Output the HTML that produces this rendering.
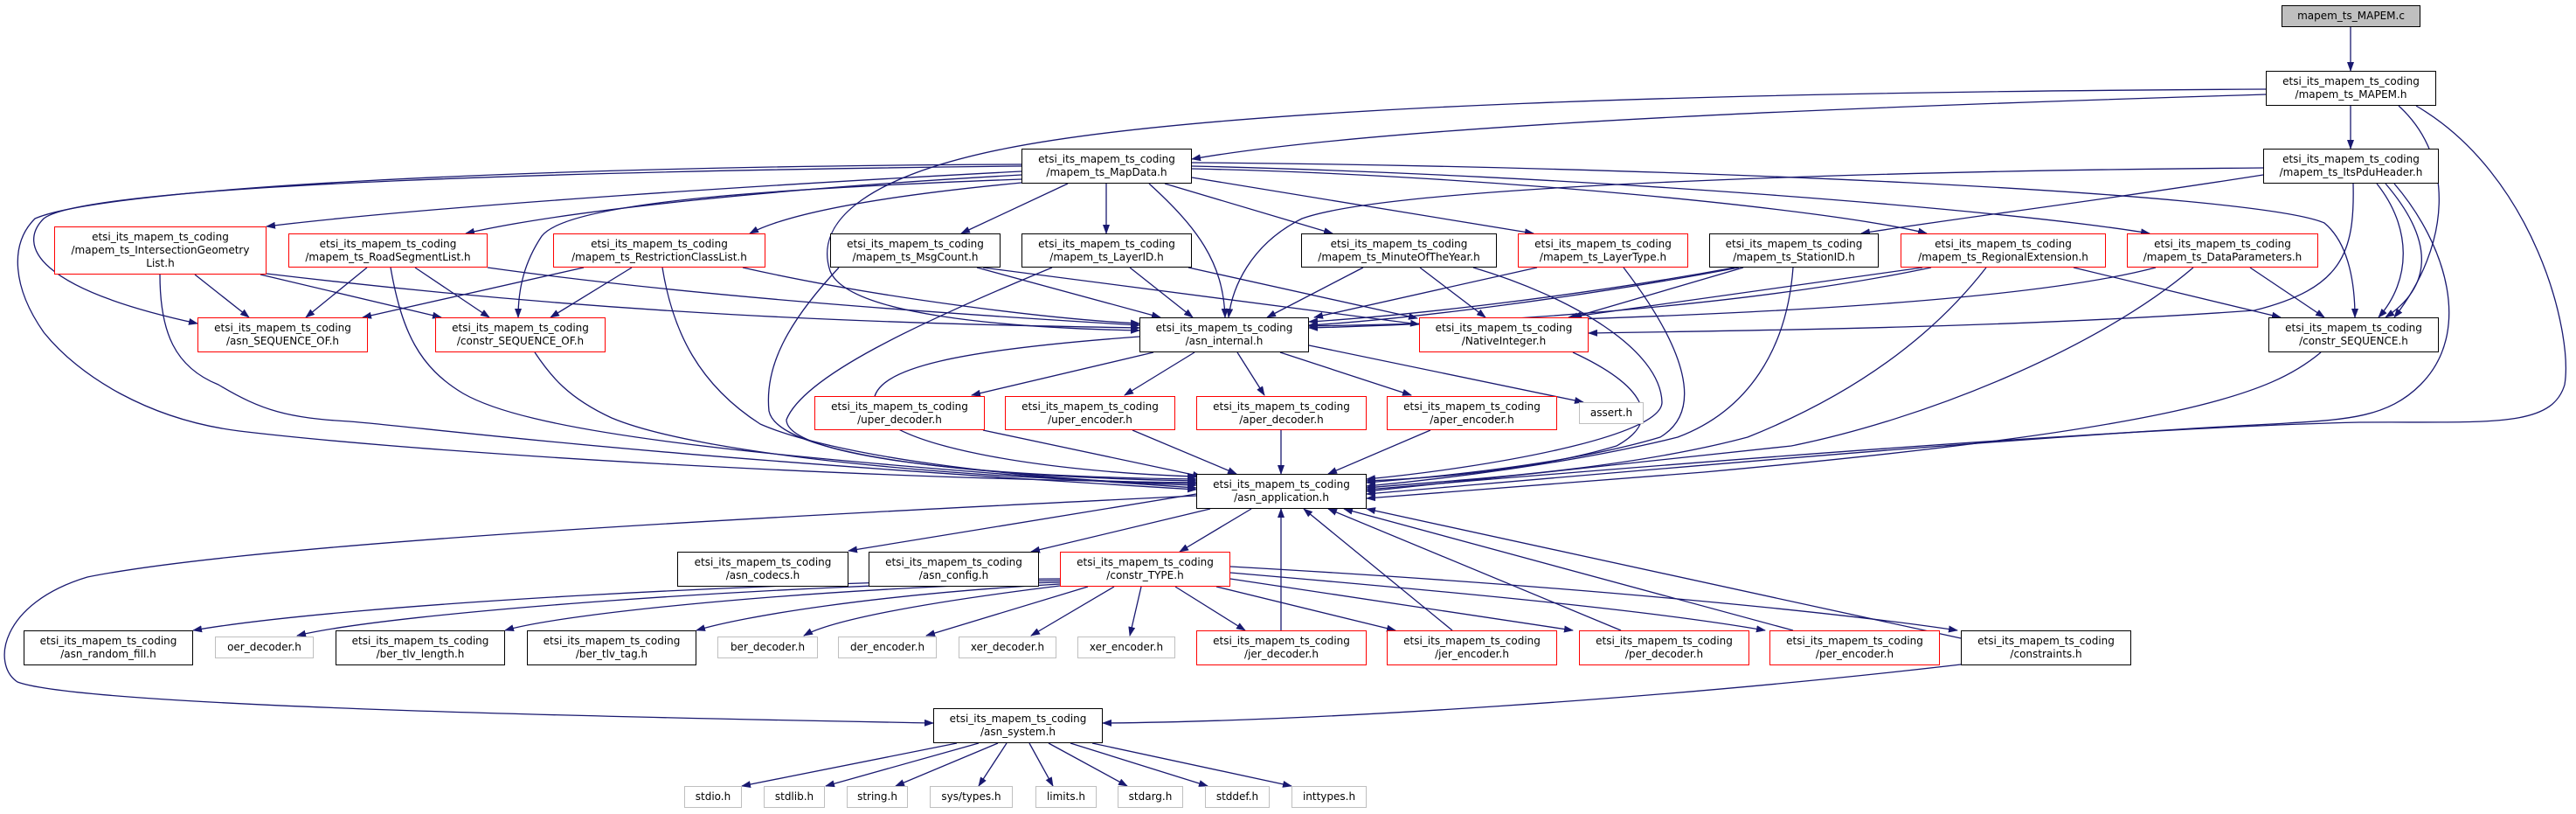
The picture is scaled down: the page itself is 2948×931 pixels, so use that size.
<!DOCTYPE html>
<html><head><meta charset="utf-8"><style>
html,body{margin:0;padding:0;background:#fff}
#w{position:relative;width:2948px;height:931px;overflow:hidden}
svg{position:absolute;left:0;top:0}
.n{position:absolute;box-sizing:border-box;border:1.5px solid #000;background:#fff;font-family:"DejaVu Sans","Liberation Sans",sans-serif;font-size:12px;line-height:15px;color:#000;display:flex;align-items:center;justify-content:center;text-align:center;white-space:nowrap}
.r{border-color:#f00}
.g{border-color:#bfbfbf}
</style></head><body><div id="w">
<svg width="2948" height="931" viewBox="0 0 2948 931">
<defs><marker id="a" markerWidth="11" markerHeight="8" refX="10" refY="4" orient="auto" markerUnits="userSpaceOnUse"><path d="M0,0 L11,4 L0,8 z" fill="#191970"/></marker></defs>
<g fill="none" stroke="#191970" stroke-width="1.3" marker-end="url(#a)">
<path d="M2690,31 L2690,81"/>
<path d="M2690,121 L2690,170"/>
<path d="M2593,108 C2200,120 1600,140 1364,182"/>
<path d="M2593,102 C2000,105 1400,120 1150,170 C1000,200 930,250 950,310 C970,360 1150,375 1304,378"/>
<path d="M2745,121 C2810,180 2805,280 2740,363"/>
<path d="M2765,121 C2900,200 2945,380 2935,440 C2920,490 2850,482 2700,483 C2400,490 1800,540 1564,560"/>
<path d="M2590,200 C2400,230 2200,255 2130,267"/>
<path d="M2590,192 C2200,195 1600,210 1490,250 C1430,280 1410,330 1406,363"/>
<path d="M2693,210 C2695,290 2680,330 2580,355 C2300,375 2000,378 1818,381"/>
<path d="M2720,210 C2760,260 2760,320 2722,363"/>
<path d="M2730,210 C2790,280 2780,330 2730,363"/>
<path d="M2740,210 C2800,280 2830,380 2770,440 C2730,480 2680,480 2600,485 C2300,500 1800,545 1564,565"/>
<path d="M2656,403 C2600,450 2500,490 1950,540 L1564,570"/>
<path d="M1169,196 C900,210 500,235 305,259"/>
<path d="M1169,200 C900,215 650,240 533,267"/>
<path d="M1169,209 C1000,225 900,245 858,267"/>
<path d="M1222,210 L1100,267"/>
<path d="M1266,210 L1266,267"/>
<path d="M1333,210 L1525,267"/>
<path d="M1364,203 L1755,267"/>
<path d="M1315,210 C1370,260 1400,300 1402,363"/>
<path d="M1364,193 C1700,200 2100,240 2205,267"/>
<path d="M1364,190 C1800,200 2300,240 2460,267"/>
<path d="M1364,186 C1900,190 2580,220 2660,255 C2690,280 2695,330 2695,363"/>
<path d="M1169,190 C700,195 100,210 50,250 C20,280 40,330 226,370"/>
<path d="M1169,188 C600,190 120,215 40,250 C10,280 15,330 50,380 C90,430 170,480 274,493 C500,520 1000,548 1369,552"/>
<path d="M1169,205 C900,215 650,230 620,270 C600,300 593,330 593,363"/>
<path d="M223,314 L285,363"/>
<path d="M298,314 L505,363"/>
<path d="M305,313 C700,360 1000,370 1304,375"/>
<path d="M183,314 C183,380 200,420 250,440 C300,470 330,478 400,482 C500,490 700,520 1369,560"/>
<path d="M420,306 L350,363"/>
<path d="M475,306 L560,363"/>
<path d="M558,306 C800,340 1100,360 1304,372"/>
<path d="M447,306 C460,380 480,420 530,450 C600,490 800,520 1369,558"/>
<path d="M668,306 L415,363"/>
<path d="M723,306 L630,363"/>
<path d="M850,306 C1000,340 1200,365 1304,370"/>
<path d="M758,306 C770,380 800,440 870,485 C950,520 1150,548 1369,555"/>
<path d="M612,403 C630,430 650,455 700,478 C800,520 1100,548 1369,553"/>
<path d="M1118,306 L1328,363"/>
<path d="M1125,306 L1624,371"/>
<path d="M960,306 C900,370 875,420 880,470 C890,520 1100,545 1369,550"/>
<path d="M1293,306 L1365,363"/>
<path d="M1360,306 L1622,364"/>
<path d="M1204,306 C1050,370 920,430 900,480 C900,520 1100,545 1369,548"/>
<path d="M1560,306 L1450,363"/>
<path d="M1625,306 L1700,363"/>
<path d="M1686,306 C1800,340 1900,400 1902,460 C1902,500 1700,535 1564,548"/>
<path d="M1759,306 L1504,363"/>
<path d="M1858,306 C1930,400 1950,470 1900,500 C1800,530 1650,545 1564,552"/>
<path d="M1985,306 C1800,340 1600,362 1498,368"/>
<path d="M1990,306 C1800,342 1600,366 1498,372"/>
<path d="M1995,306 L1800,363"/>
<path d="M2052,306 C2045,400 2000,470 1920,500 C1800,530 1650,548 1564,556"/>
<path d="M2210,306 C2000,350 1700,370 1498,375"/>
<path d="M2200,306 L1795,363"/>
<path d="M2373,306 L2610,363"/>
<path d="M2273,306 C2200,400 2100,460 2000,500 C1850,540 1650,550 1564,558"/>
<path d="M2467,306 C2300,350 1900,365 1498,373"/>
<path d="M2575,306 L2660,363"/>
<path d="M2510,306 C2400,400 2200,480 2050,510 L1564,562"/>
<path d="M1800,403 C1880,440 1905,480 1850,510 C1750,540 1620,548 1564,550"/>
<path d="M1320,403 L1112,452"/>
<path d="M1367,403 L1287,452"/>
<path d="M1416,403 L1447,452"/>
<path d="M1465,403 L1615,452"/>
<path d="M1498,395 L1812,460"/>
<path d="M1304,385 C1100,400 1000,420 1000,460 C1000,510 1200,540 1369,545"/>
<path d="M1125,492 L1375,545"/>
<path d="M1296,492 L1415,542"/>
<path d="M1466,492 L1466,542"/>
<path d="M1637,492 L1520,542"/>
<path d="M1369,565 L971,630"/>
<path d="M1385,582 L1180,631"/>
<path d="M1432,582 L1350,631"/>
<path d="M1369,567 C900,590 300,620 100,660 C0,690 -10,760 20,780 C100,810 800,822 1068,827"/>
<path d="M1213,662 C900,665 400,690 221,721"/>
<path d="M1213,664 C900,668 450,700 340,727"/>
<path d="M1213,666 C950,672 650,700 578,721"/>
<path d="M1213,668 C1000,680 850,705 797,721"/>
<path d="M1213,670 C1050,690 950,710 920,727"/>
<path d="M1245,671 L1060,727"/>
<path d="M1275,671 L1180,727"/>
<path d="M1306,671 L1293,727"/>
<path d="M1345,671 L1425,721"/>
<path d="M1392,671 L1597,721"/>
<path d="M1408,662 L1800,721"/>
<path d="M1408,655 C1700,680 1900,700 2020,721"/>
<path d="M1408,648 C1800,670 2100,700 2240,721"/>
<path d="M1466,721 L1466,582"/>
<path d="M1662,721 L1492,582"/>
<path d="M1855,721 L1520,582"/>
<path d="M2052,721 L1538,582"/>
<path d="M2244,730 L1564,582"/>
<path d="M2244,760 C1900,800 1500,825 1262,827"/>
<path d="M1095,850 L849,899"/>
<path d="M1120,850 L945,899"/>
<path d="M1142,850 L1025,899"/>
<path d="M1152,850 L1120,899"/>
<path d="M1178,850 L1205,899"/>
<path d="M1200,850 L1290,899"/>
<path d="M1225,850 L1382,899"/>
<path d="M1250,850 L1478,899"/>
</g></svg>
<div class="n" style="left:2611px;top:6px;width:159px;height:25px;background:#bfbfbf">mapem_ts_MAPEM.c</div>
<div class="n" style="left:2593px;top:81px;width:195px;height:40px">etsi_its_mapem_ts_coding<br>/mapem_ts_MAPEM.h</div>
<div class="n" style="left:2590px;top:170px;width:201px;height:40px">etsi_its_mapem_ts_coding<br>/mapem_ts_ItsPduHeader.h</div>
<div class="n" style="left:1169px;top:170px;width:195px;height:40px">etsi_its_mapem_ts_coding<br>/mapem_ts_MapData.h</div>
<div class="n r" style="left:62px;top:259px;width:243px;height:55px">etsi_its_mapem_ts_coding<br>/mapem_ts_IntersectionGeometry<br>List.h</div>
<div class="n r" style="left:330px;top:267px;width:228px;height:39px">etsi_its_mapem_ts_coding<br>/mapem_ts_RoadSegmentList.h</div>
<div class="n r" style="left:633px;top:267px;width:243px;height:39px">etsi_its_mapem_ts_coding<br>/mapem_ts_RestrictionClassList.h</div>
<div class="n" style="left:950px;top:267px;width:195px;height:39px">etsi_its_mapem_ts_coding<br>/mapem_ts_MsgCount.h</div>
<div class="n" style="left:1169px;top:267px;width:195px;height:39px">etsi_its_mapem_ts_coding<br>/mapem_ts_LayerID.h</div>
<div class="n" style="left:1489px;top:267px;width:224px;height:39px">etsi_its_mapem_ts_coding<br>/mapem_ts_MinuteOfTheYear.h</div>
<div class="n r" style="left:1737px;top:267px;width:195px;height:39px">etsi_its_mapem_ts_coding<br>/mapem_ts_LayerType.h</div>
<div class="n" style="left:1956px;top:267px;width:194px;height:39px">etsi_its_mapem_ts_coding<br>/mapem_ts_StationID.h</div>
<div class="n r" style="left:2175px;top:267px;width:235px;height:39px">etsi_its_mapem_ts_coding<br>/mapem_ts_RegionalExtension.h</div>
<div class="n r" style="left:2434px;top:267px;width:219px;height:39px">etsi_its_mapem_ts_coding<br>/mapem_ts_DataParameters.h</div>
<div class="n r" style="left:226px;top:363px;width:195px;height:40px">etsi_its_mapem_ts_coding<br>/asn_SEQUENCE_OF.h</div>
<div class="n r" style="left:498px;top:363px;width:195px;height:40px">etsi_its_mapem_ts_coding<br>/constr_SEQUENCE_OF.h</div>
<div class="n" style="left:1304px;top:363px;width:194px;height:40px">etsi_its_mapem_ts_coding<br>/asn_internal.h</div>
<div class="n r" style="left:1624px;top:363px;width:194px;height:40px">etsi_its_mapem_ts_coding<br>/NativeInteger.h</div>
<div class="n" style="left:2596px;top:363px;width:195px;height:40px">etsi_its_mapem_ts_coding<br>/constr_SEQUENCE.h</div>
<div class="n r" style="left:932px;top:453px;width:195px;height:39px">etsi_its_mapem_ts_coding<br>/uper_decoder.h</div>
<div class="n r" style="left:1150px;top:453px;width:195px;height:39px">etsi_its_mapem_ts_coding<br>/uper_encoder.h</div>
<div class="n r" style="left:1369px;top:453px;width:195px;height:39px">etsi_its_mapem_ts_coding<br>/aper_decoder.h</div>
<div class="n r" style="left:1587px;top:453px;width:195px;height:39px">etsi_its_mapem_ts_coding<br>/aper_encoder.h</div>
<div class="n g" style="left:1807px;top:460px;width:74px;height:25px">assert.h</div>
<div class="n" style="left:1369px;top:542px;width:195px;height:40px">etsi_its_mapem_ts_coding<br>/asn_application.h</div>
<div class="n" style="left:775px;top:631px;width:196px;height:40px">etsi_its_mapem_ts_coding<br>/asn_codecs.h</div>
<div class="n" style="left:994px;top:631px;width:195px;height:40px">etsi_its_mapem_ts_coding<br>/asn_config.h</div>
<div class="n r" style="left:1213px;top:631px;width:195px;height:40px">etsi_its_mapem_ts_coding<br>/constr_TYPE.h</div>
<div class="n" style="left:27px;top:721px;width:194px;height:40px">etsi_its_mapem_ts_coding<br>/asn_random_fill.h</div>
<div class="n g" style="left:246px;top:728px;width:113px;height:25px">oer_decoder.h</div>
<div class="n" style="left:384px;top:721px;width:194px;height:40px">etsi_its_mapem_ts_coding<br>/ber_tlv_length.h</div>
<div class="n" style="left:603px;top:721px;width:194px;height:40px">etsi_its_mapem_ts_coding<br>/ber_tlv_tag.h</div>
<div class="n g" style="left:821px;top:728px;width:115px;height:25px">ber_decoder.h</div>
<div class="n g" style="left:959px;top:728px;width:113px;height:25px">der_encoder.h</div>
<div class="n g" style="left:1097px;top:728px;width:112px;height:25px">xer_decoder.h</div>
<div class="n g" style="left:1233px;top:728px;width:112px;height:25px">xer_encoder.h</div>
<div class="n r" style="left:1369px;top:721px;width:195px;height:40px">etsi_its_mapem_ts_coding<br>/jer_decoder.h</div>
<div class="n r" style="left:1587px;top:721px;width:195px;height:40px">etsi_its_mapem_ts_coding<br>/jer_encoder.h</div>
<div class="n r" style="left:1807px;top:721px;width:195px;height:40px">etsi_its_mapem_ts_coding<br>/per_decoder.h</div>
<div class="n r" style="left:2025px;top:721px;width:195px;height:40px">etsi_its_mapem_ts_coding<br>/per_encoder.h</div>
<div class="n" style="left:2244px;top:721px;width:195px;height:40px">etsi_its_mapem_ts_coding<br>/constraints.h</div>
<div class="n" style="left:1068px;top:810px;width:194px;height:40px">etsi_its_mapem_ts_coding<br>/asn_system.h</div>
<div class="n g" style="left:783px;top:899px;width:66px;height:25px">stdio.h</div>
<div class="n g" style="left:874px;top:899px;width:70px;height:25px">stdlib.h</div>
<div class="n g" style="left:969px;top:899px;width:70px;height:25px">string.h</div>
<div class="n g" style="left:1064px;top:899px;width:95px;height:25px">sys/types.h</div>
<div class="n g" style="left:1185px;top:899px;width:70px;height:25px">limits.h</div>
<div class="n g" style="left:1279px;top:899px;width:75px;height:25px">stdarg.h</div>
<div class="n g" style="left:1379px;top:899px;width:74px;height:25px">stddef.h</div>
<div class="n g" style="left:1478px;top:899px;width:86px;height:25px">inttypes.h</div>
</div></body></html>
